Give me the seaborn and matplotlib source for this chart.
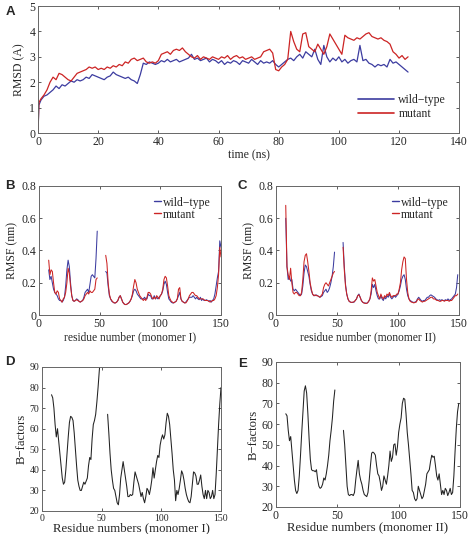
import matplotlib
matplotlib.use("Agg")
import matplotlib.pyplot as plt
import seaborn as sns
import pandas as pd
import numpy as np

# ---- data ----
time_ns = [0, 0.3] + list(range(1, 124))
rmsd_wt = [0, 1.1,
           1.3, 1.45, 1.5, 1.6, 1.7, 1.85, 1.75, 1.9, 1.85, 1.95,
           2.05, 2.0, 2.1, 2.05, 2.1, 2.2, 2.15, 2.3, 2.25, 2.2,
           2.15, 2.1, 2.2, 2.25, 2.4, 2.3, 2.25, 2.2, 2.15, 2.2,
           2.1, 2.05, 1.95, 2.3, 2.75, 2.7, 2.8, 2.75, 2.7, 2.75,
           2.85, 2.8, 2.9, 2.8, 2.85, 2.9, 2.8, 2.85, 2.9, 2.95,
           3.1, 2.9, 2.95, 2.85, 2.9, 2.95, 2.8, 2.9, 2.85, 2.75,
           2.85, 2.7, 2.8, 2.75, 2.85, 2.8, 2.7, 2.85, 2.8, 2.75,
           2.9, 2.8, 2.7, 2.85, 2.75, 2.8, 2.75, 2.85, 2.7, 2.6,
           2.7, 2.8, 2.9, 2.95, 2.85, 3.0, 3.1, 2.95, 3.2, 3.1,
           3.0, 3.3, 2.9, 2.7, 3.45, 3.0, 2.8, 2.95, 2.85, 3.0,
           2.8, 2.9, 2.75, 2.85, 2.9, 2.8, 3.45, 2.85, 2.9, 2.75,
           2.7, 2.6, 2.7, 2.65, 2.7, 2.6, 2.9, 2.75, 2.8, 2.7,
           2.6, 2.5, 2.4]
rmsd_mut = [0, 1.2,
            1.35, 1.5, 1.7, 2.0, 2.2, 2.1, 2.35, 2.3, 2.2, 2.1,
            2.05, 2.2, 2.35, 2.4, 2.45, 2.5, 2.6, 2.55, 2.6, 2.5,
            2.55, 2.5, 2.6, 2.55, 2.65, 2.6, 2.7, 2.65, 2.8, 2.75,
            2.9, 2.95, 2.85, 2.9, 2.95, 2.8, 2.75, 2.8, 2.75, 2.85,
            3.1, 3.15, 3.2, 3.1, 3.25, 3.3, 3.25, 3.35, 3.2, 3.1,
            3.0, 2.95, 3.05, 2.9, 3.0, 2.95, 2.9, 3.0, 2.95, 2.9,
            3.0, 2.95, 3.05, 2.9, 3.0, 3.05, 2.95, 3.0, 2.9, 2.95,
            3.0, 2.9, 2.95, 3.0, 3.2, 3.25, 3.3, 3.15, 2.5, 2.45,
            2.6, 2.7, 2.9, 4.0, 3.6, 3.3, 3.2, 3.9, 3.95, 3.4,
            3.3, 3.2, 3.5, 3.3, 3.1, 3.4, 3.9, 3.7, 3.5, 3.3,
            3.1, 3.85, 3.75, 3.7, 3.65, 3.75, 3.7, 3.8, 3.9, 3.95,
            3.8, 3.75, 3.7, 3.75, 3.65, 3.6, 3.5, 3.2, 3.1, 2.95,
            3.05, 2.9, 3.0]

res_b = list(range(8, 49)) + list(range(55, 151))
rmsf1_wt = [0.28, 0.22, 0.24, 0.20, 0.16, 0.14, 0.13, 0.12, 0.10, 0.09,
            0.09, 0.08, 0.09, 0.11, 0.18, 0.28, 0.34, 0.30, 0.20, 0.12,
            0.09, 0.085, 0.09, 0.10, 0.095, 0.085, 0.08, 0.085, 0.09, 0.11,
            0.14, 0.15, 0.16, 0.14, 0.19, 0.24, 0.25, 0.24, 0.23, 0.35, 0.52,
            0.27, 0.26, 0.18, 0.12, 0.10, 0.085, 0.08, 0.075, 0.075, 0.08,
            0.09, 0.11, 0.12, 0.10, 0.08, 0.07, 0.065, 0.065, 0.07, 0.075,
            0.085, 0.10, 0.12, 0.15, 0.16, 0.15, 0.13, 0.12, 0.11, 0.10,
            0.10, 0.10, 0.11, 0.10, 0.10, 0.13, 0.12, 0.12, 0.10, 0.10,
            0.12, 0.10, 0.11, 0.10, 0.11, 0.12, 0.13, 0.15, 0.19, 0.21,
            0.19, 0.14, 0.10, 0.09, 0.08, 0.075, 0.075, 0.08, 0.085, 0.10,
            0.12, 0.14, 0.10, 0.085, 0.08, 0.075, 0.08, 0.09, 0.10, 0.11,
            0.11, 0.11, 0.12, 0.11, 0.10, 0.11, 0.10, 0.095, 0.11, 0.09,
            0.10, 0.09, 0.09, 0.095, 0.09, 0.085, 0.09, 0.08, 0.09, 0.10,
            0.13, 0.18, 0.23, 0.27, 0.46, 0.42]
rmsf1_mut = [0.34, 0.25, 0.28, 0.27, 0.20, 0.14, 0.13, 0.15, 0.14, 0.10,
             0.09, 0.08, 0.10, 0.11, 0.14, 0.20, 0.29, 0.26, 0.18, 0.12,
             0.09, 0.085, 0.09, 0.095, 0.09, 0.085, 0.08, 0.085, 0.09, 0.10,
             0.12, 0.13, 0.14, 0.13, 0.15, 0.14, 0.14, 0.15, 0.16, 0.22, 0.23,
             0.37, 0.32, 0.20, 0.13, 0.10, 0.09, 0.08, 0.075, 0.075, 0.08,
             0.09, 0.11, 0.12, 0.10, 0.08, 0.07, 0.065, 0.065, 0.07, 0.075,
             0.085, 0.10, 0.13, 0.18, 0.22, 0.20, 0.16, 0.14, 0.12, 0.11,
             0.10, 0.09, 0.10, 0.09, 0.11, 0.14, 0.14, 0.13, 0.11, 0.10,
             0.11, 0.10, 0.12, 0.11, 0.10, 0.12, 0.13, 0.16, 0.22, 0.24,
             0.23, 0.18, 0.12, 0.10, 0.085, 0.08, 0.075, 0.08, 0.085, 0.10,
             0.16, 0.17, 0.10, 0.085, 0.08, 0.075, 0.075, 0.085, 0.10, 0.12,
             0.13, 0.14, 0.14, 0.13, 0.12, 0.12, 0.11, 0.10, 0.10, 0.10,
             0.10, 0.095, 0.09, 0.09, 0.09, 0.085, 0.08, 0.085, 0.09, 0.09,
             0.10, 0.12, 0.17, 0.25, 0.42, 0.36]

res_c = list(range(8, 49)) + list(range(55, 150))
rmsf2_wt = [0.60, 0.30, 0.22, 0.24, 0.21, 0.22, 0.16, 0.15, 0.16, 0.15,
            0.14, 0.13, 0.12, 0.13, 0.18, 0.26, 0.31, 0.30, 0.27, 0.24,
            0.19, 0.15, 0.13, 0.12, 0.12, 0.125, 0.12, 0.115, 0.11, 0.115,
            0.12, 0.14, 0.15, 0.16, 0.14, 0.15, 0.17, 0.20, 0.24, 0.30, 0.39,
            0.45, 0.30, 0.19, 0.13, 0.10, 0.085, 0.08, 0.078, 0.078, 0.08,
            0.09, 0.10, 0.12, 0.13, 0.11, 0.09, 0.08, 0.075, 0.075, 0.072,
            0.075, 0.085, 0.10, 0.13, 0.19, 0.17, 0.19, 0.15, 0.12, 0.10,
            0.10, 0.12, 0.10, 0.09, 0.11, 0.10, 0.12, 0.11, 0.13, 0.11,
            0.10, 0.11, 0.12, 0.11, 0.12, 0.13, 0.15, 0.18, 0.22, 0.24,
            0.25, 0.22, 0.16, 0.12, 0.10, 0.09, 0.085, 0.08, 0.078, 0.08,
            0.085, 0.10, 0.11, 0.10, 0.09, 0.085, 0.09, 0.09, 0.10, 0.11,
            0.11, 0.12, 0.125, 0.12, 0.115, 0.11, 0.10, 0.095, 0.09, 0.095,
            0.09, 0.095, 0.09, 0.09, 0.095, 0.09, 0.10, 0.09, 0.095, 0.10,
            0.11, 0.12, 0.13, 0.17, 0.25]
rmsf2_mut = [0.68, 0.30, 0.25, 0.22, 0.29, 0.20, 0.14, 0.13, 0.14, 0.14,
             0.13, 0.12, 0.12, 0.14, 0.22, 0.33, 0.37, 0.38, 0.33, 0.27,
             0.20, 0.16, 0.13, 0.12, 0.125, 0.12, 0.12, 0.115, 0.11, 0.12,
             0.13, 0.17, 0.19, 0.20, 0.19, 0.18, 0.20, 0.22, 0.24, 0.26, 0.27,
             0.42, 0.28, 0.18, 0.13, 0.10, 0.085, 0.08, 0.078, 0.08, 0.082,
             0.09, 0.10, 0.12, 0.125, 0.11, 0.09, 0.08, 0.075, 0.072, 0.072,
             0.075, 0.085, 0.10, 0.15, 0.23, 0.21, 0.22, 0.18, 0.14, 0.12,
             0.10, 0.13, 0.11, 0.10, 0.12, 0.11, 0.13, 0.12, 0.14, 0.12,
             0.11, 0.12, 0.12, 0.12, 0.13, 0.13, 0.16, 0.20, 0.28, 0.33,
             0.36, 0.35, 0.22, 0.14, 0.10, 0.085, 0.08, 0.078, 0.075, 0.078,
             0.08, 0.095, 0.10, 0.09, 0.085, 0.08, 0.085, 0.085, 0.09, 0.095,
             0.10, 0.105, 0.11, 0.11, 0.10, 0.10, 0.095, 0.09, 0.09, 0.085,
             0.085, 0.09, 0.09, 0.085, 0.09, 0.09, 0.09, 0.085, 0.09, 0.09,
             0.10, 0.11, 0.12, 0.12, 0.13]

res_d = list(range(8, 50)) + list(range(55, 151))
bfac1 = [76.5, 75, 70, 62, 56, 60, 54, 48, 42, 36,
         33, 34, 40, 48, 56, 63, 66, 65.5, 64, 58,
         50, 42, 35, 32, 30, 30, 32, 34, 33, 34.5,
         36, 42, 46, 45, 55, 62, 64, 67, 73, 80, 88, 95,
         67, 58, 48, 40, 35, 31, 30, 27, 24, 23,
         28, 36, 40, 44, 40, 36, 32, 27, 27, 28,
         27.5, 28, 34, 39, 37, 35, 33, 30, 27, 29,
         26, 24, 27, 31, 30, 28, 31, 35, 41, 36,
         40, 44, 47, 46, 52, 55, 57, 55, 57, 63,
         67.5, 66, 62, 55, 48, 40, 35, 25, 30, 28,
         31, 35, 39.5, 38, 35, 31, 28, 26, 24.5, 24,
         27, 33, 39, 38.5, 37, 33, 33, 35, 37.5, 32,
         28, 26, 30, 26, 30, 29, 26, 27, 30, 26,
         28, 38, 50, 62, 72, 80]

res_e = list(range(8, 49)) + list(range(55, 150))
bfac2 = [65, 64, 57, 52, 54, 47, 40, 33, 28, 26.5,
         28, 35, 45, 56, 66, 76, 78.5, 75, 65, 53,
         43, 38, 37.5, 37.5, 37, 38, 33, 30, 29, 29.5,
         31, 34, 33, 36, 40, 45, 52, 57, 63, 71, 76.5,
         57, 50, 40, 30, 26, 25.5, 26, 26, 25.5, 27,
         33, 38, 42.5, 36, 33, 31, 28, 26, 25.5, 25,
         27, 33, 40, 46, 46.5, 46, 45, 40, 36, 35,
         32, 28, 30, 35, 33, 31, 35, 40, 47, 42,
         44, 50, 50.5, 45, 49, 56, 60, 63, 70, 72.5,
         72, 65, 56, 50, 43, 36, 28, 27, 24, 23,
         24, 30, 28, 26, 24, 25, 28, 31, 36, 37,
         38, 42, 45, 44, 44.5, 40, 35, 33, 36, 31,
         26, 28, 26, 29, 28, 25.5, 27, 29, 26, 27,
         35, 47, 58, 66, 70]

BLUE = "#3c3ca0"
RED = "#cc2424"
WT = "wild\u2212type"

sns.set_style("ticks")
plt.rcParams["font.family"] = ["Liberation Serif", "DejaVu Serif"]


def seg_ids(res):
    # split residues into continuous segments (gap in the structure)
    return list(np.cumsum(np.r_[0, np.diff(res) > 1]))


def style_axes(ax, fs=8.5):
    for s in ax.spines.values():
        s.set_color("#666666")
        s.set_linewidth(0.7)
    ax.tick_params(direction="in", length=2.5, width=0.6, color="#444444",
                   labelsize=fs, top=True, right=True, pad=2)


def color_legend(leg, lw):
    for l, c in zip(leg.get_lines(), [BLUE, RED]):
        l.set_color(c)
        l.set_linewidth(lw)


fig = plt.figure(figsize=(4.68, 5.34), dpi=100)

# ---- A: RMSD ----
axA = fig.add_axes([0.0812, 0.7509, 0.9, 0.2378])
dfA = pd.DataFrame({"time": time_ns * 2,
                    "rmsd": rmsd_wt + rmsd_mut,
                    "kind": [WT] * len(time_ns) + ["mutant"] * len(time_ns)})
sns.lineplot(data=dfA, x="time", y="rmsd", hue="kind",
             palette={WT: BLUE, "mutant": RED},
             estimator=None, sort=False, lw=0.9, ax=axA)
axA.set_xlim(0, 140)
axA.set_ylim(0, 5)
axA.set_xticks(range(0, 141, 20))
axA.set_yticks(range(0, 6))
axA.set_xlabel("time (ns)", fontsize=8.5, labelpad=1)
axA.set_ylabel("RMSD (A)", fontsize=8.5, labelpad=3)
style_axes(axA)
legA = axA.legend(loc="lower right", frameon=False, fontsize=8.5, handlelength=3.0,
                  handletextpad=0.4, labelspacing=0.2, borderaxespad=0.7)
color_legend(legA, 1.2)


def rmsf_panel(rect, res, wt, mut, xlabel):
    ax = fig.add_axes(rect)
    seg = seg_ids(res)
    df = pd.DataFrame({"res": res * 2, "rmsf": wt + mut, "seg": seg * 2,
                       "kind": [WT] * len(res) + ["mutant"] * len(res)})
    sns.lineplot(data=df, x="res", y="rmsf", hue="kind", units="seg",
                 palette={WT: BLUE, "mutant": RED},
                 estimator=None, sort=False, lw=0.75, ax=ax)
    ax.set_xlim(0, 150)
    ax.set_ylim(0, 0.8)
    ax.set_xticks([0, 50, 100, 150])
    ax.set_yticks([0, 0.2, 0.4, 0.6, 0.8])
    ax.set_yticklabels(["0", "0.2", "0.4", "0.6", "0.8"])
    ax.set_xlabel(xlabel, fontsize=8.3, labelpad=1)
    ax.set_ylabel("RMSF (nm)", fontsize=8.5, labelpad=2)
    style_axes(ax)
    leg = ax.legend(loc="upper right", frameon=False, fontsize=8.5, handlelength=0.6,
                    handletextpad=0.1, labelspacing=0.0, borderaxespad=0.5)
    color_legend(leg, 1.0)
    return ax


rmsf_panel([0.0833, 0.4101, 0.3889, 0.2416], res_b, rmsf1_wt, rmsf1_mut,
           "residue number (monomer I)")
rmsf_panel([0.5897, 0.4101, 0.391, 0.2416], res_c, rmsf2_wt, rmsf2_mut,
           "residue number (monomer II)")


def bfac_panel(rect, res, vals, xlabel, fs):
    ax = fig.add_axes(rect)
    df = pd.DataFrame({"res": res, "b": vals, "seg": seg_ids(res)})
    sns.lineplot(data=df, x="res", y="b", units="seg", estimator=None,
                 sort=False, color="#222222", lw=0.75, ax=ax)
    ax.set_xlim(0, 150)
    ax.set_ylim(20, 90)
    ax.set_xticks([0, 50, 100, 150])
    ax.set_yticks(range(20, 91, 10))
    ax.set_xlabel(xlabel, fontsize=9.2, labelpad=0)
    ax.set_ylabel("B\u2212factors", fontsize=9.2, labelpad=1)
    style_axes(ax, fs=fs)
    return ax


bfac_panel([0.0897, 0.0431, 0.3825, 0.2697], res_d, bfac1,
           "Residue numbers (monomer I)", 7)
bfac_panel([0.5897, 0.0506, 0.3932, 0.2715], res_e, bfac2,
           "Residue numbers (monomer II)", 8.5)

# panel letters
for lab, x, y in [("A", 0.012, 0.978), ("B", 0.012, 0.652), ("C", 0.508, 0.652),
                  ("D", 0.012, 0.322), ("E", 0.508, 0.318)]:
    fig.text(x, y, lab, fontsize=9.5, fontweight="bold",
             family=["Liberation Sans", "DejaVu Sans"], va="center", ha="left")

fig.savefig("out.png", dpi=100)
